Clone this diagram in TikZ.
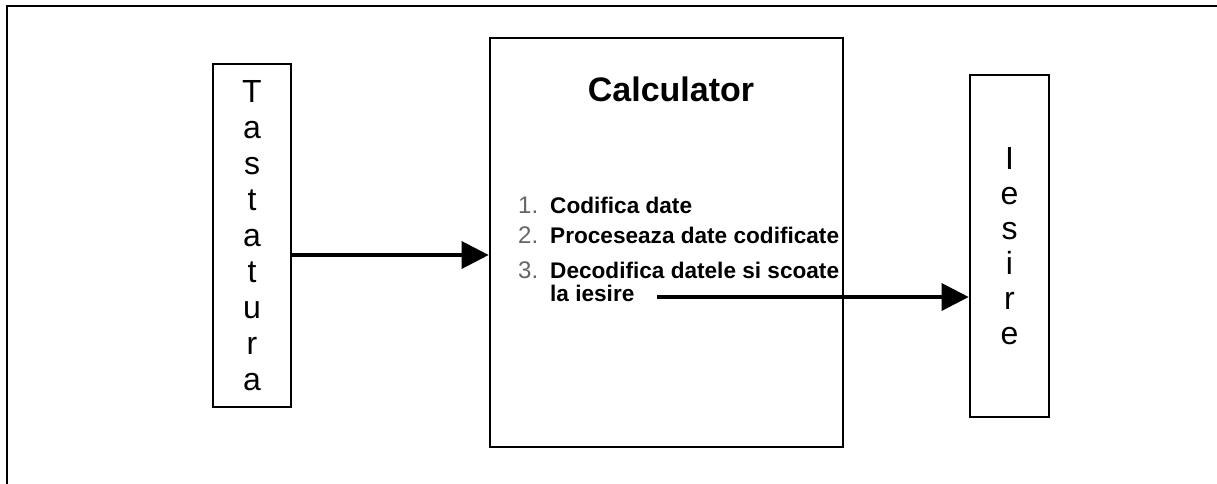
\documentclass[tikz,border=0pt]{standalone}
\usepackage{fontspec}
\setmainfont{Liberation Sans}
\usetikzlibrary{
		positioning,
		arrows.meta
	}
\tikzset{
		>=stealth
	}
\newcommand{\Nr}[1]{\makebox[32pt][l]{\textcolor{black!60}{\mdseries\fontsize{24}{23}\selectfont #1}}}

\begin{document}
\begin{tikzpicture}[x=1pt, y=-1pt,
				unitbox/.style={draw, line width=2.6pt, inner sep=0pt},
				letters/.style={align=center, font=\fontsize{32}{#1}\selectfont},
				flow/.style={line width=3.2pt, -{Triangle[length=27pt, width=27pt]}}]
	\useasboundingbox (0,0) rectangle (1217,483);
	% frame
	\draw[line width=2.2pt] (7,490) -- (7,6) -- (1225,6);
	% units
	\node[unitbox, letters=36, minimum width=78pt, minimum height=343pt] (tast) at (252,235.5)
		{T\\a\\s\\t\\a\\t\\u\\r\\a};
	\node[unitbox, minimum width=353pt, minimum height=409pt] (calc) at (666.5,242.5) {};
	\node[unitbox, letters=35, minimum width=79pt, minimum height=342pt] (iesire) at (1009.5,246)
		{I\\e\\s\\i\\r\\e};
	% inside the calculator
	\node[anchor=base, inner sep=0pt, font=\fontsize{34}{40}\selectfont\bfseries] (calctitle) at (671,101) {Calculator};
	\node[anchor=base west, inner sep=0pt, font=\fontsize{22.6}{23}\selectfont\bfseries] (pasi) at (518,213)
		{\begin{tabular}[t]{@{}l@{}l@{}}
			\Nr{1.} & Codifica date\\[7pt]
			\Nr{2.} & Proceseaza date codificate\\[11pt]
			\Nr{3.} & Decodifica datele si scoate\\
			        & la iesire
		\end{tabular}};
	\coordinate (iesout) at (657,297);
	% connectors
	\draw[flow] ([yshift=-19.5pt]tast.east) -- ([yshift=-12.5pt]calc.west);
	\draw[flow] (iesout) -- ([yshift=-51pt]iesire.west);
\end{tikzpicture}
\end{document}
